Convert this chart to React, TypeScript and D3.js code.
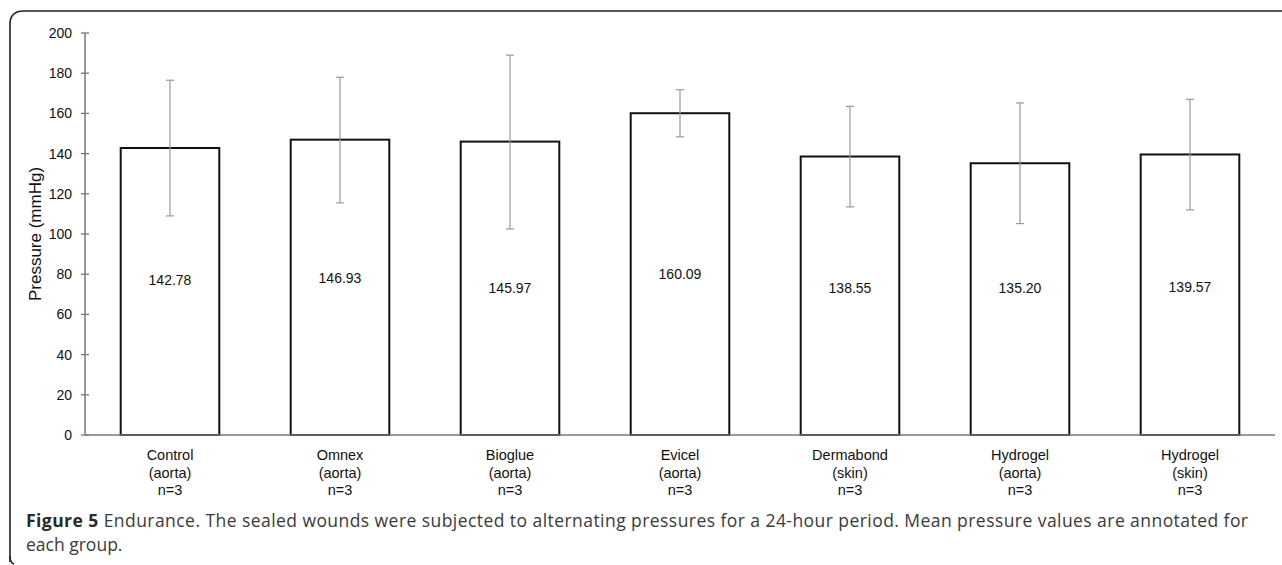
import React, { useEffect, useRef } from "react";
import * as d3 from "d3";

const groups = ["Control", "Omnex", "Bioglue", "Evicel", "Dermabond", "Hydrogel", "Hydrogel"];
const tissues = ["(aorta)", "(aorta)", "(aorta)", "(aorta)", "(skin)", "(aorta)", "(skin)"];
const sampleSizes = ["n=3", "n=3", "n=3", "n=3", "n=3", "n=3", "n=3"];
const means = [142.78, 146.93, 145.97, 160.09, 138.55, 135.2, 139.57];
const errUpper = [176.5, 178, 189, 171.8, 163.5, 165.2, 167];
const errLower = [109, 115.5, 102.5, 148.3, 113.5, 105.2, 112];
const labelLevels = [77, 78, 73, 80, 73, 73, 73.5];
const yTicks = [0, 20, 40, 60, 80, 100, 120, 140, 160, 180, 200];

export default function App() {
  const ref = useRef<SVGSVGElement>(null);
  useEffect(() => {
    const svg = d3.select(ref.current);
    svg.selectAll("*").remove();
    const W = 1282;
    const left = 85, right = 1275, top = 33, bottom = 435;
    const font = "Liberation Sans, Arial, sans-serif";
    const idx = means.map((_, i) => String(i));
    const x = d3.scaleBand().domain(idx).range([left, right]).paddingInner(0.42).paddingOuter(0.21);
    const y = d3.scaleLinear().domain([0, 200]).range([bottom, top]);

    // frame
    svg.append("path")
      .attr("d", `M10,562 L10,24 Q10,11 24,11 L${W},11`)
      .attr("fill", "none").attr("stroke", "#222").attr("stroke-width", 1.6);
    svg.append("path")
      .attr("d", `M10,556 Q10,563 14,564`)
      .attr("fill", "none").attr("stroke", "#222").attr("stroke-width", 1.6);

    const g = svg.append("g");
    // y axis
    g.append("line").attr("x1", left).attr("x2", left).attr("y1", top).attr("y2", bottom)
      .attr("stroke", "#777").attr("stroke-width", 1.5);
    yTicks.forEach((t) => {
      g.append("line").attr("x1", left - 4).attr("x2", left + 4).attr("y1", y(t)).attr("y2", y(t))
        .attr("stroke", "#777").attr("stroke-width", 1.3);
      g.append("text").attr("x", left - 13).attr("y", y(t)).attr("dy", "0.35em")
        .attr("text-anchor", "end").attr("font-family", font)
        .attr("font-size", 14).attr("fill", "#111").text(String(t));
    });
    g.append("text")
      .attr("transform", `translate(41,${(top + bottom) / 2}) rotate(-90)`)
      .attr("text-anchor", "middle").attr("font-family", font)
      .attr("font-size", 17).attr("fill", "#111").text("Pressure (mmHg)");

    // bars
    means.forEach((m, i) => {
      const bx = x(String(i))!;
      const bw = x.bandwidth();
      g.append("rect").attr("x", bx).attr("y", y(m)).attr("width", bw).attr("height", bottom - y(m))
        .attr("fill", "#fff").attr("stroke", "#111").attr("stroke-width", 2);
    });
    // x axis line
    g.append("line").attr("x1", left).attr("x2", right).attr("y1", bottom).attr("y2", bottom)
      .attr("stroke", "#777").attr("stroke-width", 1.5);

    means.forEach((m, i) => {
      const cx = x(String(i))! + x.bandwidth() / 2;
      g.append("line").attr("x1", cx).attr("x2", cx).attr("y1", y(errUpper[i])).attr("y2", y(errLower[i]))
        .attr("stroke", "#999").attr("stroke-width", 1.2);
      [errUpper[i], errLower[i]].forEach((v) => {
        g.append("line").attr("x1", cx - 4).attr("x2", cx + 4).attr("y1", y(v)).attr("y2", y(v))
          .attr("stroke", "#999").attr("stroke-width", 1.2);
      });
      g.append("text").attr("x", cx).attr("y", y(labelLevels[i])).attr("dy", "0.35em")
        .attr("text-anchor", "middle").attr("font-family", font)
        .attr("font-size", 14).attr("fill", "#111").text(m.toFixed(2));
      const lines = [groups[i], tissues[i], sampleSizes[i]];
      lines.forEach((t, k) => {
        g.append("text").attr("x", cx).attr("y", 455 + k * 17.5).attr("dy", "0.35em")
          .attr("text-anchor", "middle").attr("font-family", font)
          .attr("font-size", 14.5).attr("fill", "#111").text(t);
      });
    });

    // caption
    const cap = svg.append("text").attr("x", 26).attr("y", 527)
      .attr("font-family", "Open Sans, sans-serif").attr("font-size", 17.5).attr("fill", "#3a3a3a")
      .attr("textLength", 1222).attr("lengthAdjust", "spacing");
    cap.append("tspan").attr("font-weight", "bold").attr("fill", "#2a2a2a").text("Figure 5");
    cap.append("tspan").text(" Endurance. The sealed wounds were subjected to alternating pressures for a 24-hour period. Mean pressure values are annotated for");
    svg.append("text").attr("x", 26).attr("y", 551)
      .attr("font-family", "Open Sans, sans-serif").attr("font-size", 17.5).attr("fill", "#3a3a3a")
      .text("each group.");
  }, []);
  return (
    <svg ref={ref} width={1282} height={565}
      style={{ position: "absolute", left: 0, top: 0, background: "#fff" }} />
  );
}
